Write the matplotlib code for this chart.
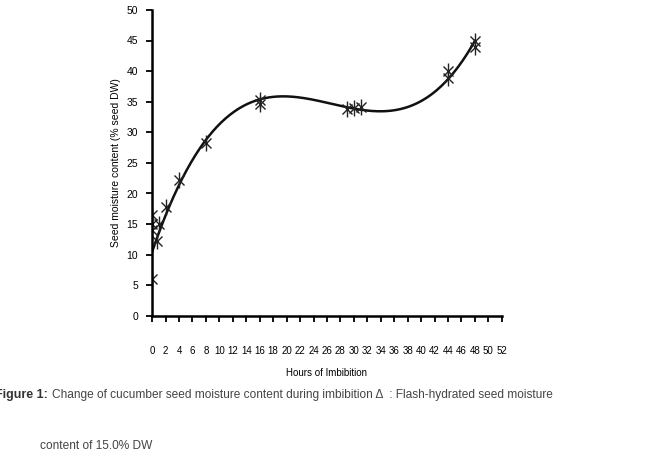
import numpy as np
import matplotlib
matplotlib.use("Agg")
import matplotlib.pyplot as plt

plt.rcParams['font.family'] = ['Liberation Sans', 'DejaVu Sans']

# hours of imbibition and seed moisture content (% seed DW)
hours = [0, 0, 0, 0, 0.8, 1, 2, 4, 8, 16, 16, 29, 30, 31, 44, 44, 48, 48]
moisture = [6, 14, 15, 16.5, 12.3, 15, 17.8, 22.2, 28.3, 34.7, 35.3,
            33.8, 34.0, 34.2, 38.8, 40.0, 44.0, 45.0]

# points on the drawn trend line
trend_h = [0, 4, 8, 16, 20, 26, 30, 34, 40, 44, 48]
trend_m = [10.5, 21.5, 28.5, 35.3, 36.0, 35.0, 34.0, 33.2, 35.0, 38.7, 45.0]

xticks = list(range(0, 53, 2))
yticks = list(range(0, 51, 5))

fig = plt.figure(figsize=(6.5, 4.5), dpi=100)
ax = fig.add_axes([0.234, 0.298, 0.538, 0.68])

# cubic trend line
coef = np.polyfit(trend_h, trend_m, 3)
xs = np.linspace(0, 48, 300)
ax.plot(xs, np.polyval(coef, xs), color='#111111', lw=1.8)
ax.plot(hours, moisture, ls='none', marker='x', ms=7, mew=1.0, color='#222222')
ax.plot(hours, moisture, ls='none', marker='|', ms=11, mew=1.0, color='#222222')

ax.set_xlim(0, 52)
ax.set_ylim(0, 50)
ax.set_xticks(xticks)
ax.set_yticks(yticks)
ax.tick_params(axis='x', direction='out', length=4, width=1.3, pad=18,
               labelsize=7)
ax.tick_params(axis='y', direction='out', length=4, width=1.3, pad=6,
               labelsize=7.5)
for s in ['top', 'right']:
    ax.spines[s].set_visible(False)
for s in ['left', 'bottom']:
    ax.spines[s].set_linewidth(1.8)

ax.set_xlabel('Hours of Imbibition', fontsize=7, labelpad=8)
ax.set_ylabel('Seed moisture content (% seed DW)', fontsize=7.5, labelpad=4)

fig.text(-0.008, 0.122, 'Figure 1:', fontsize=9, fontweight='bold',
         color='#333333', va='center')
fig.text(0.08, 0.122, 'Change of cucumber seed moisture content during '
         'imbibition \u0394  : Flash-hydrated seed moisture',
         fontsize=8.6, color='#444444', va='center')
fig.text(0.062, 0.008, 'content of 15.0% DW', fontsize=8.6, color='#444444',
         va='center')

fig.savefig('out.png', dpi=100)
